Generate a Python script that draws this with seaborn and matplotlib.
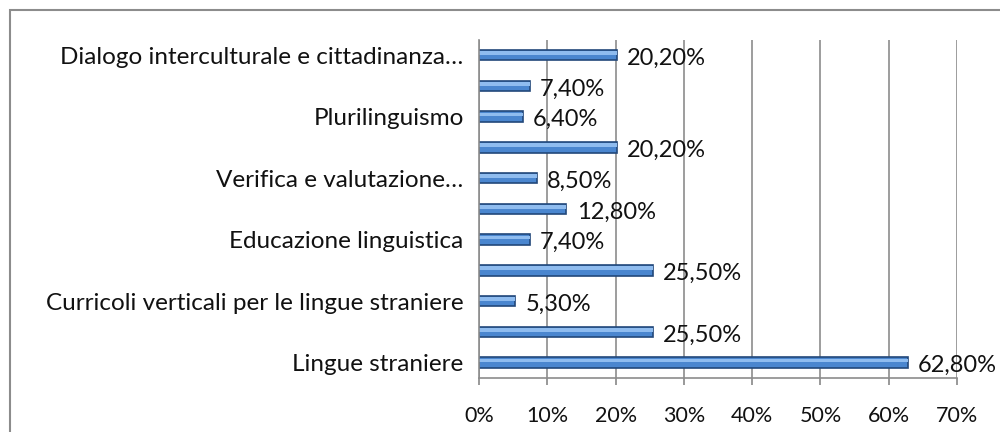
import numpy as np
import pandas as pd
import matplotlib
matplotlib.use("Agg")
import matplotlib.pyplot as plt
from matplotlib.patches import Rectangle
import seaborn as sns

# data, top to bottom as drawn
labels = [
    "Dialogo interculturale e cittadinanza\u2026",
    "",
    "Plurilinguismo",
    "",
    "Verifica e valutazione\u2026",
    "",
    "Educazione linguistica",
    "",
    "Curricoli verticali per le lingue straniere",
    "",
    "Lingue straniere",
]
values = [20.2, 7.4, 6.4, 20.2, 8.5, 12.8, 7.4, 25.5, 5.3, 25.5, 62.8]
x_ticks = [0, 10, 20, 30, 40, 50, 60, 70]

sns.set_theme(style="white")
plt.rcParams["font.family"] = ["Lato", "DejaVu Sans"]

df = pd.DataFrame({"pos": [str(i) for i in range(len(values))], "value": values})

fig = plt.figure(figsize=(10, 4.32), dpi=100)
ax = fig.add_axes([0.479, 0.125, 0.478, 0.783])

sns.barplot(data=df, x="value", y="pos", orient="h", color="#4A86CF",
            width=0.34, edgecolor="#22487A", linewidth=1.2, saturation=1, ax=ax)

# highlight stripe on each bar for the bevel look
for p in list(ax.patches):
    x0, y0 = p.get_x(), p.get_y()
    w, h = p.get_width(), p.get_height()
    ax.add_patch(Rectangle((x0, y0 + h * 0.12), w, h * 0.35,
                           facecolor="#8FBCEF", edgecolor="none", zorder=p.get_zorder() + 0.1))

for i, v in enumerate(values):
    txt = f"{v:.2f}".replace(".", ",") + "%"
    ax.text(v + 1.5, i + 0.1, txt, va="center", ha="left", fontsize=17, color="#111111")

ax.set_xlim(0, 70)
ax.set_xticks(x_ticks)
ax.set_xticklabels([f"{t}%" for t in x_ticks], fontsize=15.5, color="#111111")
ax.set_yticks(range(len(labels)))
ax.set_yticklabels(labels, fontsize=17.5, color="#111111")
ax.set_xlabel("")
ax.set_ylabel("")

ax.grid(axis="x", color="#8C8C8C", linewidth=1.2)
ax.set_axisbelow(True)
for s in ["top", "right"]:
    ax.spines[s].set_visible(False)
for s in ["left", "bottom"]:
    ax.spines[s].set_color("#8C8C8C")
    ax.spines[s].set_linewidth(1.2)
ax.tick_params(axis="x", bottom=True, length=5, color="#8C8C8C", pad=15)
ax.tick_params(axis="y", left=False, length=0, pad=11)

# outer chart frame
fig.patches.append(Rectangle((0.01, -0.5), 2, 1.477, transform=fig.transFigure,
                             fill=False, edgecolor="#8C8C8C", linewidth=1.5))

fig.savefig("out.png", dpi=100)
